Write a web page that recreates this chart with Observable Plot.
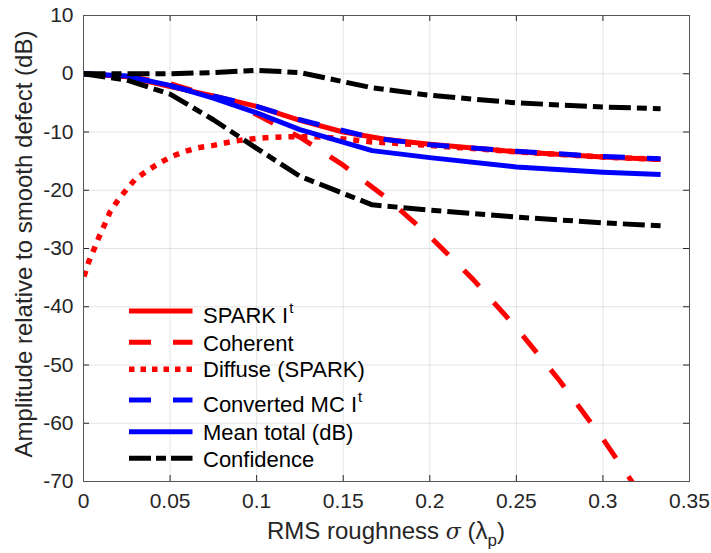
<!DOCTYPE html>
<html><head><meta charset="utf-8">
<script src="https://cdn.jsdelivr.net/npm/d3@7"></script>
<script src="https://cdn.jsdelivr.net/npm/@observablehq/plot@0.6"></script>
<style>body{margin:0;background:#fff}</style>
</head><body><div id="chart"></div>
<script>
// ---- tick values and labels ----
const xTicks = [0, 0.05, 0.1, 0.15, 0.2, 0.25, 0.3, 0.35];
const xTickLabels = ["0", "0.05", "0.1", "0.15", "0.2", "0.25", "0.3", "0.35"];
const yTicks = [10, 0, -10, -20, -30, -40, -50, -60, -70];
const yTickLabels = ["10", "0", "-10", "-20", "-30", "-40", "-50", "-60", "-70"];

// ---- SPARK I^t (red solid) ----
const sparkX = [0, 0.025, 0.05, 0.075, 0.1, 0.125, 0.15, 0.175, 0.2, 0.25, 0.3, 0.3333];
const sparkY = [0, -0.5, -2.2, -3.8, -5.6, -8.0, -10.0, -11.3, -12.1, -13.4, -14.3, -14.7];

// ---- Coherent (red dashed) ----
const cohX = [0, 0.025, 0.05, 0.075, 0.1, 0.125, 0.15, 0.175, 0.2, 0.225, 0.25, 0.275, 0.3, 0.325, 0.3333];
const cohY = [0, -0.4, -1.7, -3.9, -7.0, -10.9, -15.7, -21.3, -27.9, -35.3, -43.6, -52.7, -62.7, -73.6, -77.4];

// ---- Diffuse (SPARK) (red dotted) ----
const difX = [0.0003, 0.003, 0.006, 0.009, 0.0125, 0.0155, 0.02, 0.025, 0.03, 0.037, 0.044, 0.051, 0.059, 0.066, 0.075, 0.083, 0.091, 0.1, 0.11, 0.12, 0.13, 0.14, 0.15, 0.1667, 0.2, 0.25, 0.3, 0.3333];
const difY = [-34.8, -32.3, -30.2, -28.0, -25.7, -23.6, -21.7, -19.8, -18.1, -16.6, -15.3, -14.2, -13.3, -12.7, -12.3, -11.8, -11.4, -11.1, -10.9, -10.8, -10.8, -10.9, -11.2, -11.7, -12.3, -13.4, -14.3, -14.7];

// ---- Monte Carlo sample roughness values ----
const mcX = [0, 0.025, 0.05, 0.075, 0.1, 0.125, 0.1667, 0.2, 0.25, 0.3, 0.3333];
const convertedY = [0, -0.4, -2.1, -3.8, -5.6, -7.9, -11.0, -12.2, -13.3, -14.2, -14.6];
const meanTotalY = [0, -0.4, -2.0, -4.2, -6.7, -9.6, -13.2, -14.4, -16.0, -16.9, -17.3];
const confUpperY = [0, 0, 0, 0.2, 0.6, 0.2, -2.4, -3.7, -5.0, -5.7, -6.0];
const confLowerY = [0, -1.1, -3.5, -7.9, -12.8, -17.6, -22.5, -23.4, -24.6, -25.6, -26.1];

const legendLabels = ["SPARK I", "Coherent", "Diffuse (SPARK)", "Converted MC I", "Mean total (dB)", "Confidence"];

const toRows = (xs, ys) => xs.map((x, i) => ({x, y: ys[i]}));

const W = 711, H = 553, mL = 83, mR = 22, mT = 15, mB = 72;
const fw = W - mL - mR, fh = H - mT - mB;
const FONT = "'Liberation Sans', Arial, Helvetica, sans-serif";
const INK = "#262626";
const LW = 5;

const lineOpts = {x: "x", y: "y", strokeWidth: LW, strokeLinecap: "butt", strokeLinejoin: "round", clip: true};

const plot = Plot.plot({
  width: W, height: H,
  marginLeft: mL, marginRight: mR, marginTop: mT, marginBottom: mB,
  x: {domain: [0, 0.35]},
  y: {domain: [-70, 10]},
  style: {fontFamily: FONT, fontSize: "21px", color: INK, background: "#fff"},
  marks: [
    Plot.gridX(xTicks, {stroke: "#000", strokeOpacity: 0.1}),
    Plot.gridY(yTicks, {stroke: "#000", strokeOpacity: 0.1}),
    Plot.axisX(xTicks, {tickSize: 0, tickPadding: 12, fontSize: 21, fill: INK, label: null,
      tickFormat: d => xTickLabels[xTicks.indexOf(d)]}),
    Plot.axisY(yTicks, {tickSize: 0, tickPadding: 10, fontSize: 21, fill: INK, label: null,
      tickFormat: d => yTickLabels[yTicks.indexOf(d)]}),
    // inward ticks on all four sides
    Plot.ruleX(xTicks, {x: d => d, insetTop: fh - 6, stroke: INK}),
    Plot.ruleX(xTicks, {x: d => d, insetBottom: fh - 6, stroke: INK}),
    Plot.ruleY(yTicks, {y: d => d, insetRight: fw - 6, stroke: INK}),
    Plot.ruleY(yTicks, {y: d => d, insetLeft: fw - 6, stroke: INK}),
    // series
    Plot.line(toRows(sparkX, sparkY), {...lineOpts, stroke: "#ff0000"}),
    Plot.line(toRows(cohX, cohY), {...lineOpts, stroke: "#ff0000", strokeDasharray: "22,22"}),
    Plot.line(toRows(difX, difY), {...lineOpts, stroke: "#ff0000", strokeWidth: 5.5, strokeDasharray: "6,7"}),
    Plot.line(toRows(mcX, convertedY), {...lineOpts, stroke: "#0000ff", strokeDasharray: "22,22"}),
    Plot.line(toRows(mcX, meanTotalY), {...lineOpts, stroke: "#0000ff"}),
    Plot.line(toRows(mcX, confUpperY), {...lineOpts, stroke: "#000", strokeDasharray: "22,6,10,6"}),
    Plot.line(toRows(mcX, confLowerY), {...lineOpts, stroke: "#000", strokeDasharray: "22,6,10,6"}),
    Plot.frame({stroke: "#555", strokeWidth: 1})
  ]
});

document.getElementById("chart").appendChild(plot);
const svg = d3.select(plot);

// y-axis label
svg.append("text")
  .attr("transform", `translate(32,${(mT + H - mB) / 2 - 4}) rotate(-90)`)
  .attr("text-anchor", "middle")
  .attr("font-family", FONT).attr("font-size", 24).attr("fill", INK)
  .text("Amplitude relative to smooth defect (dB)");

// x-axis label
const xl = svg.append("text")
  .attr("x", mL + fw / 2).attr("y", 539)
  .attr("text-anchor", "middle")
  .attr("font-family", FONT).attr("font-size", 24).attr("fill", INK);
xl.append("tspan").text("RMS roughness ");
xl.append("tspan").attr("font-style", "italic").attr("font-family", "'DejaVu Serif', serif").attr("font-size", 22).text("σ");
xl.append("tspan").text(" (λ");
xl.append("tspan").attr("font-size", 17).attr("dy", 7).text("p");
xl.append("tspan").attr("dy", -7).text(")");

// legend
const legStyles = [
  {stroke: "#ff0000", dash: null, w: LW},
  {stroke: "#ff0000", dash: "22,22", w: LW},
  {stroke: "#ff0000", dash: "5.5,6", w: 5.5},
  {stroke: "#0000ff", dash: "22,22", w: LW},
  {stroke: "#0000ff", dash: null, w: LW},
  {stroke: "#000", dash: "22,5,10,5", w: LW}
];
const legLineY = [311, 342.3, 369.3, 400, 431.7, 458.3];
const legTextY = [323, 350.7, 377.3, 411.7, 440, 466.7];
const legSup = [true, false, false, true, false, false];
const lg = svg.append("g").attr("text-anchor", "start");
legendLabels.forEach((lab, i) => {
  lg.append("line")
    .attr("x1", 129).attr("x2", 192.5).attr("y1", legLineY[i]).attr("y2", legLineY[i])
    .attr("stroke", legStyles[i].stroke).attr("stroke-width", legStyles[i].w)
    .attr("stroke-dasharray", legStyles[i].dash);
  const t = lg.append("text")
    .attr("x", 203).attr("y", legTextY[i]).attr("text-anchor", "start")
    .attr("font-family", FONT).attr("font-size", 22).attr("fill", "#000");
  t.append("tspan").text(lab);
  if (legSup[i]) t.append("tspan").attr("font-size", 15).attr("dy", -10).attr("dx", 1).text("t");
});
</script>
</body></html>
